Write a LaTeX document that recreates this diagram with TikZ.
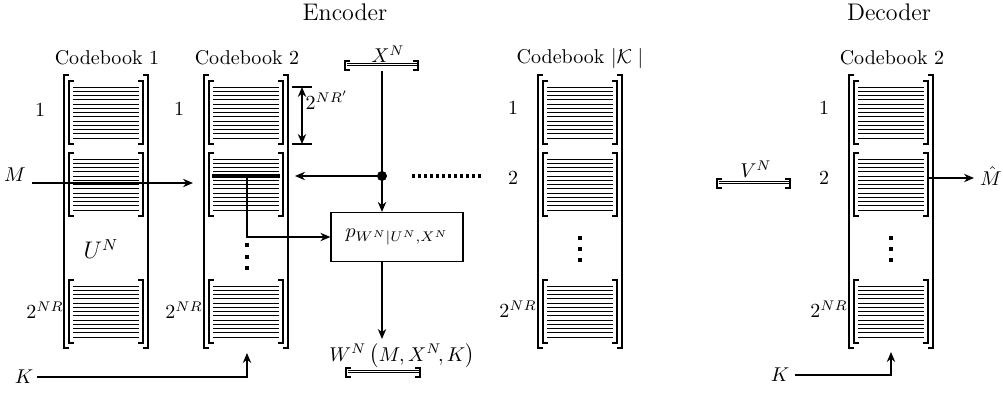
\documentclass[tikz,border=0pt]{standalone}
\usetikzlibrary{arrows.meta}
\tikzset{
  px/.style={x=0.5pt,y=-0.5pt},
  brk/.style={line width=0.75pt},
  cbline/.style={line width=0.45pt},
  wire/.style={line width=0.6pt},
  conn/.style={wire,-{Stealth[length=5pt,width=4.2pt]}},
  dconn/.style={wire,{Stealth[length=5pt,width=4.2pt]}-{Stealth[length=5pt,width=4.2pt]}},
  lbl/.style={inner sep=0pt},
  sq/.style={fill=black},
}
% outer bracket pair of a codebook, centre x = #1
\newcommand\cbouter[1]{%
  \draw[brk] (#1-37,75) -- (#1-42,75) -- (#1-42,348) -- (#1-37,348);
  \draw[brk] (#1+37,75) -- (#1+42,75) -- (#1+42,348) -- (#1+37,348);
}
% one block of codewords, centre x = #1, top y = #2
\newcommand\cblock[2]{%
  \draw[brk] (#1-32,#2) -- (#1-37,#2) -- (#1-37,#2+63) -- (#1-32,#2+63);
  \draw[brk] (#1+32,#2) -- (#1+37,#2) -- (#1+37,#2+63) -- (#1+32,#2+63);
  \foreach \k in {0,...,12}{\draw[cbline] (#1-33,#2+6+\k*4.25) -- (#1+33,#2+6+\k*4.25);}
}
\newcommand\fullcb[1]{\cbouter{#1}\cblock{#1}{81}\cblock{#1}{153}\cblock{#1}{280}}
% small square dots, x = #1, ys = #2 #3 #4
\newcommand\vdsq[4]{%
  \foreach \yy in {#2,#3,#4}{\fill[sq] (#1-1.8,\yy-1.8) rectangle (#1+1.8,\yy+1.8);}
}
% horizontal bracket (sequence), from x #1 to x #2, top y #3
\newcommand\hbrk[3]{%
  \draw[brk] (#1+5,#3) -- (#1,#3) -- (#1,#3+9) -- (#1+5,#3+9);
  \draw[brk] (#2-5,#3) -- (#2,#3) -- (#2,#3+9) -- (#2-5,#3+9);
  \draw[cbline] (#1+1.5,#3+2.5) -- (#2-1.5,#3+2.5);
  \draw[cbline] (#1+1.5,#3+4.5) -- (#2-1.5,#3+4.5);
}
\begin{document}
\begin{tikzpicture}[px]
\useasboundingbox (0,0) rectangle (1003,392);

% titles
\node[lbl,font=\large] (enc) at (345,12) {Encoder};
\node[lbl,font=\large] (dec) at (889,12) {Decoder};

% codebooks
\fullcb{106}
\fullcb{246}
\fullcb{580}
\fullcb{891}

\node[lbl] (t1) at (107,58) {Codebook 1};
\node[lbl] (t2) at (247,58) {Codebook 2};
\node[lbl] (tk) at (580,58) {Codebook $|\mathcal{K}\;|$};
\node[lbl] (td) at (892,58) {Codebook 2};

% row labels
\node[lbl] (r11) at (40,110) {1};
\node[lbl] (r21) at (179,109) {1};
\node[lbl] (rk1) at (513,108) {1};
\node[lbl] (rk2) at (513,178) {2};
\node[lbl] (rd1) at (824,108) {1};
\node[lbl] (rd2) at (824,178) {2};
\node[lbl] (r1n) at (45,310) {$2^{NR}$};
\node[lbl] (r2n) at (184,310) {$2^{NR}$};
\node[lbl] (rkn) at (518,309) {$2^{NR}$};
\node[lbl] (rdn) at (829,309) {$2^{NR}$};

\node[lbl,font=\large] (un) at (101,249) {$U^N$};

% vertical dots
\vdsq{247}{245}{257}{268}
\vdsq{580}{238}{249}{260}
\vdsq{891}{238}{249}{260}

% selected codeword in codebook 2
\coordinate (c2l) at (212,176);
\coordinate (c2r) at (280,176);
\draw[line width=1.6pt] (c2l) -- (c2r);
\coordinate (c2row) at (247,176);

% size marker 2^{NR'}
\coordinate (nrt) at (302,87);
\coordinate (nrb) at (302,144);
\coordinate (nrtl) at (292,87);
\coordinate (nrtr) at (312,87);
\coordinate (nrbl) at (292,144);
\coordinate (nrbr) at (312,144);
\draw[wire] (nrtl) -- (nrtr);
\draw[wire] (nrbl) -- (nrbr);
\draw[dconn] (nrt) -- (nrb);
\node[lbl] (nrl) at (327,100) {$2^{NR'}$};

% X^N
\node[lbl] (xn) at (388,54) {$X^N$};
\hbrk{345}{418}{61}
\coordinate (xnb) at (382,71);

% channel box
\node[draw,wire,minimum width=66pt,minimum height=24.5pt,inner sep=0pt] (pbox) at (397,237) {$p_{W^N|U^N,X^N}$};

\draw[conn] (xnb) -- (xnb |- pbox.north);
\node[circle,fill=black,inner sep=0pt,minimum size=5pt] (dot) at (382,176) {};
\coordinate (c2in) at (295,176);
\draw[conn] (dot.center) -- (c2in);
\draw[conn] (c2row) |- (pbox.west);

% dotted continuation
\coordinate (dl1) at (412,176);
\coordinate (dl2) at (482,176);
\draw[line width=1.6pt, dash pattern=on 1.6pt off 1.4pt] (dl1) -- (dl2);

% output W^N
\coordinate (wtip) at (382,339);
\draw[conn] (pbox.south -| xnb) -- (wtip);
\node[lbl] (wn) at (402,356) {$W^N\left(M,X^N\!,K\right)$};
\hbrk{346}{420}{368}

% M input
\node[lbl] (M) at (15,175) {$M$};
\coordinate (ms) at (32,183);
\coordinate (me) at (193,183);
\draw[conn] (ms) -- (me);

% K into encoder codebook 2
\node[lbl] (K1) at (24,377) {$K$};
\coordinate (k1s) at (37,377);
\coordinate (k1t) at (247,353);
\draw[conn] (k1s) -| (k1t);

% V^N
\node[lbl] (vn) at (756,169) {$V^N$};
\hbrk{717}{790}{179}

% decoder K and output
\node[lbl] (K2) at (780,375) {$K$};
\coordinate (k2s) at (795,375);
\coordinate (k2t) at (891,352);
\draw[conn] (k2s) -| (k2t);

\coordinate (mhs) at (928,178);
\coordinate (mhe) at (974,178);
\draw[conn] (mhs) -- (mhe);
\node[lbl] (mh) at (991,176) {$\hat{M}$};
\end{tikzpicture}
\end{document}
